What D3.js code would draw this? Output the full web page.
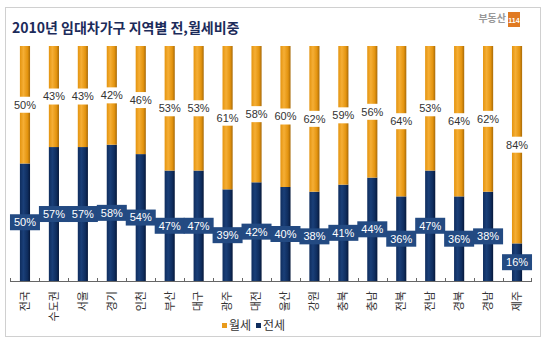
<!DOCTYPE html>
<html>
<head>
<meta charset="utf-8">
<script src="https://cdn.jsdelivr.net/npm/d3@7"></script>
<style>
  body { margin: 0; background: #fff; }
  svg { display: block; }
</style>
</head>
<body>
<svg id="chart" width="550" height="354"></svg>
<script>
// data
const regions = ["전국", "수도권", "서울", "경기", "인천", "부산", "대구", "광주", "대전",
    "울산", "강원", "충북", "충남", "전북", "전남", "경북", "경남", "제주"];
const jeonse = [50, 57, 57, 58, 54, 47, 47, 39, 42, 40, 38, 41, 44, 36, 47, 36, 38, 16];
const wolse = [50, 43, 43, 42, 46, 53, 53, 61, 58, 60, 62, 59, 56, 64, 53, 64, 62, 84];
const seriesNames = ["월세", "전세"];

const orange = "#e99b1c";
const navy = "#0f2d5e";
const font = "'Noto Sans CJK KR', 'Liberation Sans', sans-serif";

const svg = d3.select("#chart");

// frame
svg.append("rect")
    .attr("x", 5.5).attr("y", 7.5)
    .attr("width", 535).attr("height", 329)
    .attr("fill", "#fff")
    .attr("stroke", "#d0d0d0");

// title
svg.append("text")
    .attr("x", 12).attr("y", 33)
    .attr("font-family", font)
    .attr("font-size", 14)
    .attr("font-weight", "bold")
    .attr("fill", "#1c2b5a")
    .text("2010년 임대차가구 지역별 전,월세비중");

// logo
svg.append("text")
    .attr("x", 506).attr("y", 22)
    .attr("text-anchor", "end")
    .attr("font-family", font)
    .attr("font-size", 10)
    .attr("font-weight", "bold")
    .attr("fill", "#999")
    .text("부동산");
svg.append("rect")
    .attr("x", 508).attr("y", 12)
    .attr("width", 12).attr("height", 15)
    .attr("fill", "#e07a22");
svg.append("text")
    .attr("x", 514).attr("y", 23)
    .attr("text-anchor", "middle")
    .attr("font-family", "'Liberation Sans', sans-serif")
    .attr("font-size", 7)
    .attr("font-weight", "bold")
    .attr("fill", "#fff")
    .text("114");

// gradients for the cylinder look
const defs = svg.append("defs");
function addGradient(id, dark, mid, light) {
    const g = defs.append("linearGradient").attr("id", id)
        .attr("x1", "0%").attr("x2", "100%").attr("y1", "0%").attr("y2", "0%");
    g.append("stop").attr("offset", "0%").attr("stop-color", mid);
    g.append("stop").attr("offset", "35%").attr("stop-color", light);
    g.append("stop").attr("offset", "75%").attr("stop-color", mid);
    g.append("stop").attr("offset", "100%").attr("stop-color", dark);
}
addGradient("gOrange", "#a86a08", "#e4940f", "#f5ae35");
addGradient("gNavy", "#06183a", "#0f2d5e", "#1a3f78");

// scales
const xScale = d3.scaleBand()
    .domain(regions)
    .range([10.5, 531.5])
    .paddingInner(0.65)
    .paddingOuter(0.325);

const yScale = d3.scaleLinear()
    .domain([0, 100])
    .range([281, 46]);

const rows = regions.map((r, i) => ({ region: r, jeonse: jeonse[i], wolse: wolse[i] }));

// jeonse (bottom)
svg.append("g")
    .selectAll("rect")
    .data(rows)
    .join("rect")
    .attr("x", d => xScale(d.region))
    .attr("y", d => yScale(d.jeonse))
    .attr("width", xScale.bandwidth())
    .attr("height", d => yScale(0) - yScale(d.jeonse))
    .attr("fill", "url(#gNavy)");

// wolse (top)
svg.append("g")
    .selectAll("rect")
    .data(rows)
    .join("rect")
    .attr("x", d => xScale(d.region))
    .attr("y", d => yScale(d.jeonse + d.wolse))
    .attr("width", xScale.bandwidth())
    .attr("height", d => yScale(d.jeonse) - yScale(d.jeonse + d.wolse))
    .attr("fill", "url(#gOrange)");

// value labels
const cx = d => xScale(d.region) + xScale.bandwidth() / 2;

const wLab = svg.append("g")
    .selectAll("g")
    .data(rows)
    .join("g")
    .attr("transform", d => `translate(${cx(d)}, ${yScale(d.jeonse + d.wolse / 2)})`);
wLab.append("rect")
    .attr("x", -14).attr("y", -8)
    .attr("width", 28).attr("height", 16)
    .attr("fill", "#fff");
wLab.append("text")
    .attr("text-anchor", "middle")
    .attr("dy", "0.35em")
    .attr("font-family", "'Liberation Sans', sans-serif")
    .attr("font-size", 11)
    .attr("fill", "#333")
    .text(d => d.wolse + "%");

const jLab = svg.append("g")
    .selectAll("g")
    .data(rows)
    .join("g")
    .attr("transform", d => `translate(${cx(d)}, ${yScale(d.jeonse / 2)})`);
jLab.append("rect")
    .attr("x", -15).attr("y", -8)
    .attr("width", 30).attr("height", 16)
    .attr("fill", "#234a82");
jLab.append("text")
    .attr("text-anchor", "middle")
    .attr("dy", "0.35em")
    .attr("font-family", "'Liberation Sans', sans-serif")
    .attr("font-size", 11)
    .attr("fill", "#fff")
    .text(d => d.jeonse + "%");

// axis line and ticks between the bars
const step = xScale.step();
const tickX = regions.map(r => xScale(r) + xScale.bandwidth() / 2 - step / 2)
    .concat([xScale(regions[regions.length - 1]) + xScale.bandwidth() / 2 + step / 2]);

svg.append("line")
    .attr("x1", tickX[0]).attr("x2", tickX[tickX.length - 1])
    .attr("y1", yScale(0) + 0.5).attr("y2", yScale(0) + 0.5)
    .attr("stroke", "#666");
svg.append("g")
    .selectAll("line")
    .data(tickX)
    .join("line")
    .attr("x1", d => Math.round(d) + 0.5).attr("x2", d => Math.round(d) + 0.5)
    .attr("y1", yScale(0) - 3).attr("y2", yScale(0) + 1)
    .attr("stroke", "#666");

// category labels, rotated
svg.append("g")
    .selectAll("text")
    .data(regions)
    .join("text")
    .attr("transform", d => `translate(${xScale(d) + xScale.bandwidth() / 2}, 291) rotate(-90)`)
    .attr("text-anchor", "end")
    .attr("dy", "0.35em")
    .attr("font-family", font)
    .attr("font-size", 11)
    .attr("fill", "#333")
    .text(d => d);

// legend
const legend = svg.append("g").attr("transform", "translate(222, 326)");
const legColors = [orange, navy];
const legX = [0, 34];
seriesNames.forEach((name, i) => {
    legend.append("rect")
        .attr("x", legX[i]).attr("y", -3)
        .attr("width", 5).attr("height", 5)
        .attr("fill", legColors[i]);
    legend.append("text")
        .attr("x", legX[i] + 7).attr("y", 4)
        .attr("font-family", font)
        .attr("font-size", 12)
        .attr("fill", "#333")
        .text(name);
});
</script>
</body>
</html>
